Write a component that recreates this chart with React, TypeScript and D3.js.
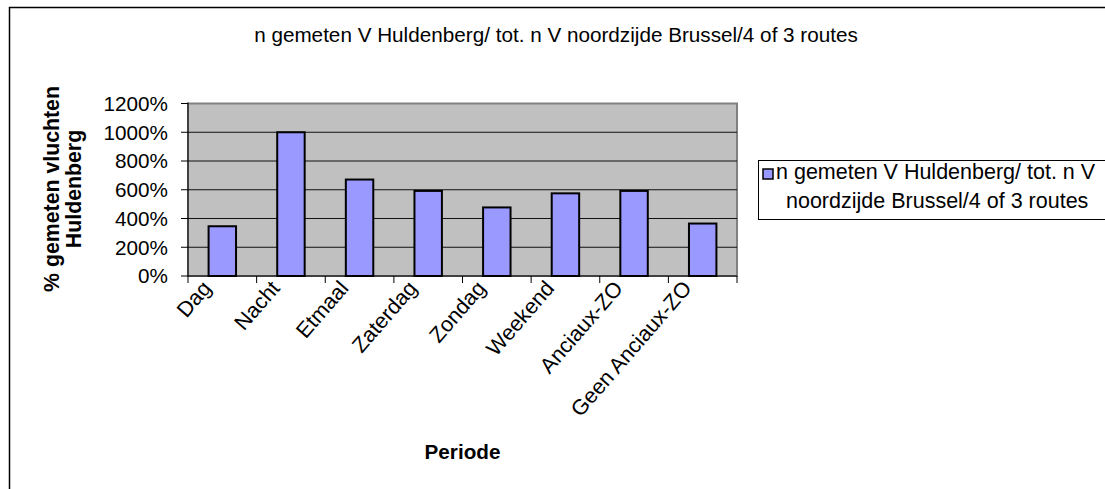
import React from 'react';
import * as d3 from 'd3';

const categories = ['Dag', 'Nacht', 'Etmaal', 'Zaterdag', 'Zondag', 'Weekend', 'Anciaux-ZO', 'Geen Anciaux-ZO'];
const values = [346, 1000, 671, 592, 477, 575, 592, 365];
const yTicks = [0, 200, 400, 600, 800, 1000, 1200];
const titleText = 'n gemeten V Huldenberg/ tot. n V noordzijde Brussel/4 of 3 routes';
const legendLines = ['n gemeten V Huldenberg/ tot. n V', 'noordzijde Brussel/4 of 3 routes'];
const yTitleLines = ['% gemeten vluchten', 'Huldenberg'];
const xTitle = 'Periode';

const font = '"Liberation Sans", Arial, sans-serif';

export default function App() {
  const width = 1105;
  const height = 489;
  const plot = { left: 188, right: 737, top: 103.5, bottom: 276 };

  const x = d3.scaleBand<string>()
    .domain(categories)
    .range([plot.left, plot.right])
    .paddingInner(0.6)
    .paddingOuter(0.3);

  const y = d3.scaleLinear()
    .domain([0, 1200])
    .range([plot.bottom, plot.top]);

  const step = x.step();
  // category boundaries for the x ticks
  const boundaries = d3.range(categories.length + 1).map(i => plot.left + i * step);

  return (
    <svg width={width} height={height} style={{ position: 'absolute', left: 0, top: 0, background: '#fff' }}
      fontFamily={font}>
      {/* chart frame */}
      <rect x={9.5} y={7.5} width={1110} height={500} fill="#fff" stroke="#000" strokeWidth={1.5} />

      <text x={556} y={42} textAnchor="middle" fontSize={20.7} fill="#000">{titleText}</text>

      {/* plot area */}
      <rect x={plot.left} y={plot.top} width={plot.right - plot.left} height={plot.bottom - plot.top}
        fill="#c0c0c0" stroke="#808080" strokeWidth={2} />

      {yTicks.filter(t => t > 0 && t < 1200).map(t => (
        <line key={t} x1={plot.left} x2={plot.right} y1={y(t)} y2={y(t)} stroke="#111" strokeWidth={1} />
      ))}

      {categories.map((c, i) => (
        <rect key={c} x={x(c)} y={y(values[i])} width={x.bandwidth()} height={y(0) - y(values[i])}
          fill="#9999ff" stroke="#000" strokeWidth={2} />
      ))}

      {/* y axis */}
      <line x1={plot.left} x2={plot.left} y1={plot.top - 1} y2={plot.bottom} stroke="#000" strokeWidth={1} />
      {yTicks.map(t => (
        <g key={t}>
          <line x1={plot.left - 7} x2={plot.left} y1={y(t)} y2={y(t)} stroke="#000" strokeWidth={1} />
          <text x={168} y={y(t)} dy="0.36em" textAnchor="end" fontSize={20.7} fill="#000">{t}%</text>
        </g>
      ))}

      {/* x axis */}
      <line x1={plot.left} x2={plot.right} y1={plot.bottom} y2={plot.bottom} stroke="#000" strokeWidth={1} />
      {boundaries.map((b, i) => (
        <line key={i} x1={b} x2={b} y1={plot.bottom} y2={plot.bottom + 7} stroke="#000" strokeWidth={1} />
      ))}
      {categories.map(c => {
        const cx = (x(c) ?? 0) + x.bandwidth() / 2;
        return (
          <text key={c} transform={`translate(${cx - 10},${289}) rotate(-49)`} textAnchor="end"
            fontSize={21.5} fill="#000">{c}</text>
        );
      })}

      <text x={(plot.left + plot.right) / 2} y={459} textAnchor="middle" fontSize={20.7} fontWeight="bold"
        fill="#000">{xTitle}</text>

      {/* y axis title */}
      {yTitleLines.map((l, i) => (
        <text key={l} transform={`translate(${59 + i * 22},189) rotate(-90)`} textAnchor="middle"
          fontSize={21.3} fontWeight="bold" fill="#000">{l}</text>
      ))}

      {/* legend */}
      <rect x={758.5} y={160.5} width={360} height={59} fill="#fff" stroke="#000" strokeWidth={1} />
      <rect x={763} y={169} width={10} height={10} fill="#9999ff" stroke="#000" strokeWidth={1.5} />
      {legendLines.map((l, i) => (
        <text key={l} x={i === 0 ? 776 : 786} y={179 + i * 29} fontSize={21.5} fill="#000">{l}</text>
      ))}
    </svg>
  );
}
